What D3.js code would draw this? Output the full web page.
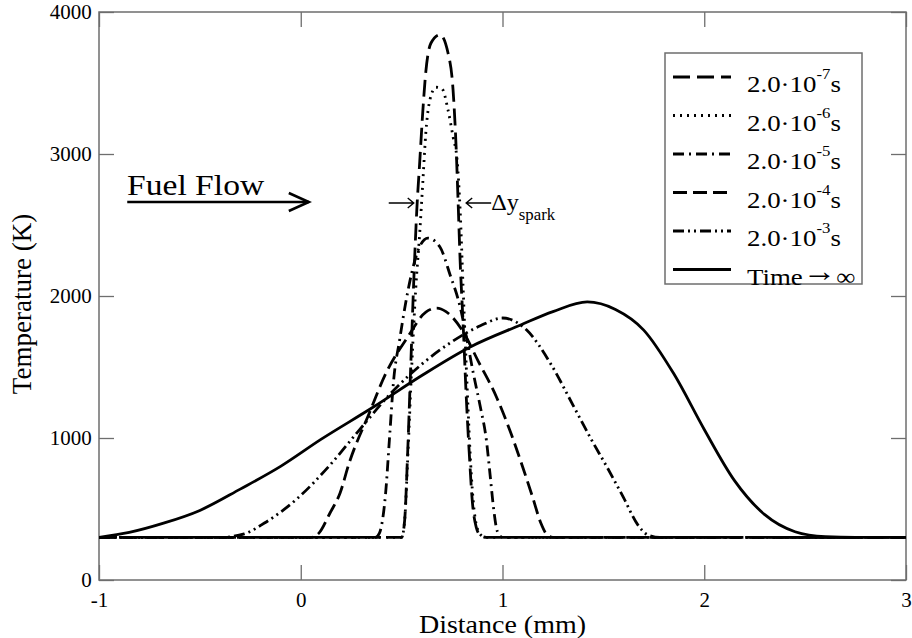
<!DOCTYPE html>
<html>
<head>
<meta charset="utf-8">
<script src="https://cdn.jsdelivr.net/npm/d3@7"></script>
<style>
  body { margin: 0; background: #fff; }
  svg text { font-family: "Liberation Serif", "Times New Roman", Tinos, "DejaVu Serif", "Noto Serif", serif !important; fill: #000; }
</style>
</head>
<body>
<div id="chart"></div>
<script>
// Temperature profiles (distance in mm, temperature in K)
const xTicks = [-1, 0, 1, 2, 3];
const yTicks = [0, 1000, 2000, 3000, 4000];

const x7 = [-1, 0.50, 0.515, 0.53, 0.545, 0.56, 0.575, 0.59, 0.605, 0.62, 0.645, 0.69, 0.73, 0.755, 0.77, 0.78, 0.79, 0.805, 0.82, 0.835, 0.85, 0.87, 0.89, 0.92, 3];
const t7 = [300, 300, 420, 900, 1500, 2100, 2600, 2950, 3300, 3580, 3780, 3840, 3711, 3450, 3050, 2662, 2250, 1800, 1300, 900, 560, 370, 315, 300, 300];

const x6 = [-1, 0.50, 0.515, 0.53, 0.55, 0.57, 0.59, 0.605, 0.62, 0.64, 0.67, 0.70, 0.73, 0.755, 0.775, 0.79, 0.805, 0.825, 0.845, 0.865, 0.89, 0.92, 3];
const t6 = [300, 300, 420, 850, 1500, 2050, 2450, 2800, 3150, 3380, 3470, 3460, 3310, 3120, 2958, 2605, 2050, 1350, 750, 430, 320, 300, 300];

const x5 = [-1, 0.37, 0.39, 0.405, 0.42, 0.44, 0.46, 0.49, 0.52, 0.55, 0.59, 0.63, 0.69, 0.74, 0.79, 0.82, 0.855, 0.89, 0.92, 0.94, 0.955, 0.975, 1.0, 3];
const t5 = [300, 300, 330, 420, 600, 1000, 1400, 1690, 1950, 2162, 2350, 2408, 2345, 2150, 1923, 1720, 1458, 1220, 986, 720, 514, 340, 300, 300];

const x4 = [-1, 0.05, 0.09, 0.145, 0.195, 0.24, 0.34, 0.42, 0.53, 0.62, 0.675, 0.72, 0.80, 0.88, 0.97, 1.04, 1.10, 1.15, 1.19, 1.22, 1.25, 3];
const t4 = [300, 300, 330, 472, 613, 824, 1176, 1450, 1711, 1887, 1915, 1890, 1760, 1540, 1289, 1040, 796, 580, 401, 320, 300, 300];

const x3 = [-1, -0.40, -0.28, -0.18, -0.02, 0.145, 0.29, 0.45, 0.60, 0.74, 0.89, 1.0, 1.12, 1.24, 1.35, 1.44, 1.52, 1.60, 1.67, 1.72, 1.78, 3];
const t3 = [300, 300, 325, 401, 570, 810, 1056, 1320, 1520, 1669, 1790, 1845, 1760, 1520, 1230, 990, 790, 580, 390, 318, 300, 300];

const xInf = [-1, -0.85, -0.68, -0.5, -0.3, -0.1, 0.1, 0.36, 0.6, 0.84, 1.09, 1.25, 1.42, 1.56, 1.70, 1.85, 2.0, 2.15, 2.3, 2.45, 2.6, 2.75, 3];
const tInf = [300, 335, 400, 490, 640, 800, 990, 1218, 1440, 1641, 1796, 1890, 1958, 1905, 1760, 1450, 1060, 700, 460, 340, 305, 300, 300];

const series = [
  { label: "-7", xs: x7, ts: t7, dash: "17,7" },
  { label: "-6", xs: x6, ts: t6, dash: "2,5" },
  { label: "-5", xs: x5, ts: t5, dash: "11,5,2,5" },
  { label: "-4", xs: x4, ts: t4, dash: "14,6" },
  { label: "-3", xs: x3, ts: t3, dash: "11,4,2,4,2,4" },
  { label: "inf", xs: xInf, ts: tInf, dash: null }
];

// Setup
const width = 912;
const height = 638;
const margin = { top: 12, right: 6, bottom: 58, left: 99 };

const svg = d3.select("#chart")
    .append("svg")
    .attr("width", width)
    .attr("height", height);

const xScale = d3.scaleLinear()
    .domain([-1, 3])
    .range([margin.left, width - margin.right]);

const yScale = d3.scaleLinear()
    .domain([0, 4000])
    .range([height - margin.bottom, margin.top]);

const x0 = xScale.range()[0], x1 = xScale.range()[1];
const y0 = yScale.range()[0], y1 = yScale.range()[1];

svg.append("defs").append("clipPath")
    .attr("id", "plot-clip")
  .append("rect")
    .attr("x", x0).attr("y", y1)
    .attr("width", x1 - x0).attr("height", y0 - y1);

// helper: a text placed at (x, y), stretched horizontally by sx
function label(parent, x, y, size, sx, anchor) {
  return parent.append("text")
      .attr("transform", `translate(${x},${y}) scale(${sx},1)`)
      .attr("text-anchor", anchor || "start")
      .attr("font-size", size);
}

// Axes with ticks pointing inwards on all four sides
const tickLen = 15;
const axisColor = "#6e6e6e";
const fmt = d => String(d);

const axBottom = svg.append("g")
    .attr("transform", `translate(0,${y0})`)
    .call(d3.axisBottom(xScale).tickValues(xTicks).tickSize(-tickLen).tickPadding(13).tickFormat(fmt));
const axLeft = svg.append("g")
    .attr("transform", `translate(${x0},0)`)
    .call(d3.axisLeft(yScale).tickValues(yTicks).tickSize(-tickLen).tickPadding(7).tickFormat(fmt));
const axTop = svg.append("g")
    .attr("transform", `translate(0,${y1})`)
    .call(d3.axisTop(xScale).tickValues(xTicks).tickSize(-tickLen).tickFormat(""));
const axRight = svg.append("g")
    .attr("transform", `translate(${x1},0)`)
    .call(d3.axisRight(yScale).tickValues(yTicks).tickSize(-tickLen).tickFormat(""));

[axBottom, axLeft, axTop, axRight].forEach(g => {
  g.select(".domain").remove();
  g.selectAll(".tick line").attr("stroke", axisColor).attr("stroke-width", 1.3);
  g.selectAll(".tick text")
    .attr("font-size", 20)
    .attr("transform", "scale(1.05,1)");
});

svg.append("rect")
    .attr("x", x0).attr("y", y1)
    .attr("width", x1 - x0).attr("height", y0 - y1)
    .attr("fill", "none")
    .attr("stroke", axisColor)
    .attr("stroke-width", 1.5);

// Axis titles
label(svg, (x0 + x1) / 2, 633, 25, 1.12, "middle").text("Distance (mm)");

svg.append("text")
    .attr("transform", `translate(31,304) rotate(-90) scale(1.08,1.06)`)
    .attr("text-anchor", "middle")
    .attr("font-size", 25)
    .text("Temperature (K)");

// Curves
const line = d3.line()
    .x(d => xScale(d[0]))
    .y(d => yScale(d[1]))
    .curve(d3.curveMonotoneX);

svg.append("g")
    .attr("clip-path", "url(#plot-clip)")
  .selectAll("path")
  .data(series)
  .enter()
  .append("path")
    .attr("d", s => line(s.xs.map((v, i) => [v, s.ts[i]])))
    .attr("fill", "none")
    .attr("stroke", "#000")
    .attr("stroke-width", 2.8)
    .attr("stroke-dasharray", s => s.dash);

// Legend
const lg = svg.append("g");
const lgX = 665, lgY = 53, lgW = 197, lgH = 231, rowH = 38.5;

lg.append("rect")
    .attr("x", lgX).attr("y", lgY)
    .attr("width", lgW).attr("height", lgH)
    .attr("fill", "#fff")
    .attr("stroke", axisColor)
    .attr("stroke-width", 1.5);

series.forEach((s, i) => {
  const cy = lgY + 24 + i * rowH;
  lg.append("line")
      .attr("x1", lgX + 8).attr("x2", lgX + 66)
      .attr("y1", cy).attr("y2", cy)
      .attr("stroke", "#000")
      .attr("stroke-width", 2.8)
      .attr("stroke-dasharray", s.dash);
  const t = label(lg, lgX + 82, cy + 15, 24, 1.12);
  if (s.label === "inf") {
    t.append("tspan").text("Time");
    t.append("tspan").attr("dy", -4).attr("font-size", 30).text("\u2192");
    t.append("tspan").attr("dy", 4).text("\u221e");
  } else {
    t.append("tspan").text("2.0\u00b710");
    t.append("tspan").attr("dy", -13).attr("font-size", 15).text(s.label);
    t.append("tspan").attr("dy", 13).attr("dx", 0).text("s");
  }
});

// Annotations
label(svg, 127, 195, 30, 1.12).text("Fuel Flow");

const arrowY = 202;
svg.append("line")
    .attr("x1", xScale(-0.86)).attr("x2", xScale(0.04))
    .attr("y1", arrowY).attr("y2", arrowY)
    .attr("stroke", "#000").attr("stroke-width", 2.6);
svg.append("path")
    .attr("d", `M${xScale(0.04) - 20},${arrowY - 9} L${xScale(0.04)},${arrowY} L${xScale(0.04) - 20},${arrowY + 9}`)
    .attr("fill", "none").attr("stroke", "#000").attr("stroke-width", 2.6);

// small arrows marking the spark width
const sparkL = xScale(0.56), sparkR = xScale(0.82), sy = 203;
svg.append("path")
    .attr("d", `M${sparkL - 25},${sy} H${sparkL} M${sparkL - 6},${sy - 5} L${sparkL},${sy} L${sparkL - 6},${sy + 5}`)
    .attr("fill", "none").attr("stroke", "#000").attr("stroke-width", 1.4);
svg.append("path")
    .attr("d", `M${sparkR + 25},${sy} H${sparkR} M${sparkR + 6},${sy - 5} L${sparkR},${sy} L${sparkR + 6},${sy + 5}`)
    .attr("fill", "none").attr("stroke", "#000").attr("stroke-width", 1.4);

const dyText = label(svg, sparkR + 25, 210, 23, 1.05);
dyText.append("tspan").text("\u0394y");
dyText.append("tspan").attr("dy", 10).attr("font-size", 16).text("spark");
</script>
</body>
</html>
